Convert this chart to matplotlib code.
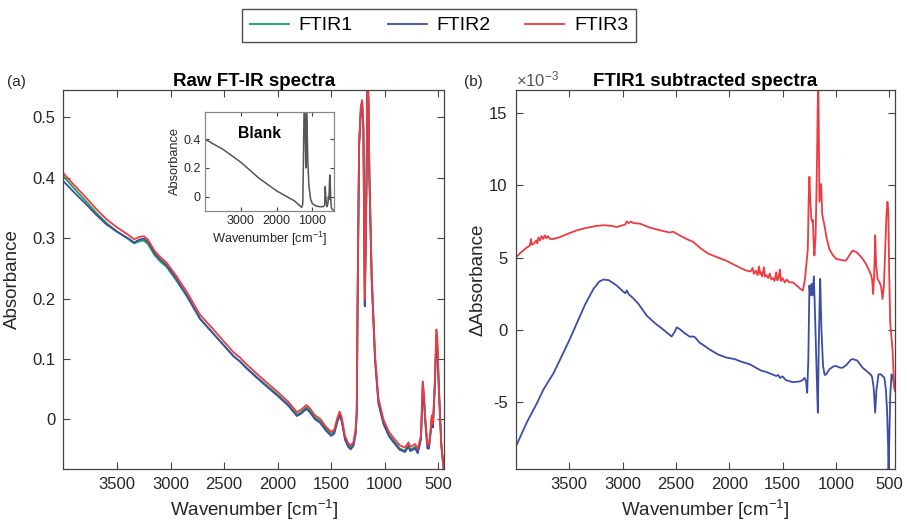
import numpy as np
import matplotlib
matplotlib.use("Agg")
import matplotlib.pyplot as plt
from matplotlib.lines import Line2D

plt.rcParams['font.family'] = ['Liberation Sans', 'DejaVu Sans']
plt.rcParams['mathtext.fontset'] = 'custom'
plt.rcParams['mathtext.rm'] = 'Liberation Sans'
plt.rcParams['mathtext.default'] = 'regular'
plt.rcParams['axes.unicode_minus'] = False

# ---- (a) raw spectra: wavenumber grid, FTIR1 absorbance, FTIR2/FTIR3 offsets (x1e-3)
wn_a = [4000, 3900, 3800, 3700, 3600, 3500, 3400, 3340, 3290, 3250, 3210, 3150, 3100,
        3036, 2950, 2849, 2724, 2600, 2500, 2413, 2350, 2300, 2200, 2101, 2000, 1900,
        1820, 1780, 1730, 1700, 1650, 1600, 1550, 1500, 1470, 1440, 1420, 1400, 1370,
        1340, 1316, 1290, 1270, 1260, 1250, 1238, 1222, 1210, 1198, 1185, 1175, 1167,
        1160, 1150, 1142, 1120, 1089, 1058, 1011, 960, 918, 860, 810, 777, 760, 730,
        715, 690, 660, 643, 632, 620, 600, 585, 570, 559, 548, 530, 516, 508, 490,
        470, 445]
ftir1 = [0.402, 0.382, 0.363, 0.343, 0.325, 0.311, 0.299, 0.291, 0.295, 0.296, 0.290,
         0.272, 0.262, 0.252, 0.231, 0.204, 0.166, 0.142, 0.122, 0.105, 0.096, 0.087,
         0.071, 0.056, 0.041, 0.025, 0.008, 0.012, 0.020, 0.015, 0.003, -0.003, -0.015,
         -0.024, -0.020, 0.000, 0.010, 0.000, -0.030, -0.042, -0.046, -0.040, -0.020,
         0.010, 0.230, 0.450, 0.510, 0.522, 0.480, 0.190, 0.300, 0.420, 0.580, 0.520,
         0.400, 0.230, 0.100, 0.030, -0.005, -0.025, -0.035, -0.048, -0.052, -0.043,
         -0.050, -0.047, -0.045, -0.053, -0.030, 0.060, 0.035, 0.000, -0.045, -0.045,
         -0.020, 0.005, -0.010, 0.060, 0.140, 0.130, 0.040, -0.040, -0.085]
off2 = [-8.0, -6.5, -5.0, -3.4, -2.2, -0.6, 1.0, 1.8, 2.6, 3.0, 3.4, 3.5, 3.3, 3.0, 2.6,
        1.8, 0.6, -0.1, 0.1, -0.3, -0.4, -0.7, -1.2, -1.6, -1.9, -2.2, -2.4, -2.5, -2.6,
        -2.7, -2.9, -3.1, -3.2, -3.3, -3.4, -3.5, -3.5, -3.6, -3.6, -3.6, -3.5, -3.4,
        -4.3, -1.0, 3.0, 2.4, 3.0, 3.6, 0.0, -3.0, -5.0, -5.7, 0.0, 3.5, 2.0, -1.0, -3.0,
        -2.8, -2.5, -2.6, -2.6, -2.1, -2.0, -2.2, -2.4, -2.7, -2.8, -3.0, -3.2, -4.5,
        -5.7, -4.0, -3.1, -3.1, -3.2, -3.2, -3.5, -4.2, -6.0, -9.0, -4.0, -3.1, -4.0]
off3 = [5.0, 5.6, 6.1, 6.3, 6.4, 6.7, 6.95, 7.05, 7.1, 7.2, 7.25, 7.2, 7.15, 7.2, 7.4,
        7.3, 7.0, 6.9, 6.7, 6.4, 6.2, 5.9, 5.4, 5.0, 4.6, 4.3, 4.1, 4.0, 3.9, 3.8, 3.7,
        3.6, 3.5, 3.4, 3.3, 3.2, 3.1, 3.0, 2.9, 2.8, 2.75, 3.0, 5.0, 7.0, 10.5, 8.5, 7.6,
        6.5, 5.5, 8.0, 13.0, 16.5, 15.0, 9.0, 10.0, 7.8, 6.6, 5.6, 5.0, 4.85, 4.8, 5.3,
        5.3, 5.0, 4.9, 4.6, 4.4, 4.0, 3.5, 2.5, 6.5, 4.0, 3.2, 2.7, 2.3, 2.2, 2.5, 6.0,
        8.8, 7.0, 2.0, -1.5, -4.0]

# ---- inset: blank spectrum
wn_blank = [4000, 3500, 3000, 2500, 2000, 1500, 1300, 1270, 1250, 1235, 1215, 1200, 1185,
            1175, 1165, 1150, 1130, 1100, 1050, 1000, 900, 800, 700, 660, 645, 635, 620,
            600, 570, 555, 540, 525, 515, 505, 490, 470, 400]
blank = [0.40, 0.33, 0.24, 0.13, 0.04, -0.03, -0.075, -0.05, 0.30, 0.60, 0.60, 0.40, 0.20,
         0.40, 0.60, 0.50, 0.25, 0.08, -0.02, -0.05, -0.065, -0.07, -0.07, -0.06, 0.07,
         0.03, -0.02, -0.07, -0.05, 0.0, -0.02, 0.10, 0.15, 0.12, -0.02, -0.08, -0.10]

# ---- (b) FTIR1 subtracted spectra (x1e-3)
wn_b2 = [3998, 3900, 3800, 3742, 3650, 3584, 3500, 3428, 3350, 3273, 3220, 3179, 3130,
         3055, 3000, 2975, 2961, 2945, 2900, 2850, 2774, 2700, 2630, 2587, 2540, 2510,
         2493, 2470, 2420, 2370, 2338, 2320, 2280, 2230, 2182, 2100, 2027, 1950, 1880,
         1808, 1750, 1700, 1650, 1600, 1559, 1540, 1525, 1500, 1470, 1404, 1340, 1310,
         1295, 1280, 1269, 1258, 1248, 1242, 1238, 1228, 1218, 1206, 1195, 1180, 1169,
         1160, 1152, 1147, 1135, 1120, 1105, 1091, 1060, 1020, 998, 960, 936, 900, 860,
         843, 800, 749, 700, 670, 660, 645, 631, 620, 600, 580, 562, 545, 531, 520, 510,
         506, 500, 490, 478, 465, 453, 445]
d2 = [-8.0, -6.4, -5.0, -4.1, -3.0, -2.0, -0.7, 0.5, 1.8, 2.85, 3.35, 3.5, 3.45, 3.08,
      2.7, 2.55, 2.75, 2.5, 2.2, 1.8, 1.0, 0.5, 0.1, -0.16, -0.44, -0.1, 0.19, 0.1, -0.2,
      -0.45, -0.44, -0.5, -0.85, -1.1, -1.35, -1.7, -1.9, -2.0, -2.2, -2.36, -2.6, -2.8,
      -2.9, -3.05, -3.17, -3.1, -3.3, -3.2, -3.45, -3.6, -3.55, -3.45, -3.3, -3.5, -4.33,
      -2.0, 3.08, 2.6, 2.4, 3.2, 2.4, 3.72, 1.0, -3.0, -5.7, -1.0, 2.0, 3.54, 0.0, -2.5,
      -3.1, -3.06, -2.7, -2.5, -2.48, -2.6, -2.6, -2.4, -2.05, -2.0, -2.1, -2.6, -2.9,
      -3.1, -3.25, -4.0, -5.7, -4.2, -3.06, -3.05, -3.17, -3.3, -4.1, -5.5, -8.0, -10.5,
      -8.0, -4.5, -3.06, -3.3, -3.87, -4.2]
wn_b3 = [3998, 3950, 3900, 3870, 3860, 3850, 3830, 3810, 3800, 3790, 3775, 3760, 3745,
         3730, 3715, 3700, 3680, 3650, 3600, 3550, 3500, 3428, 3350, 3250, 3179, 3100,
         3055, 3000, 2975, 2961, 2945, 2920, 2900, 2836, 2750, 2650, 2560, 2525, 2490,
         2400, 2338, 2276, 2200, 2100, 2027, 1950, 1880, 1839, 1800, 1780, 1770, 1750,
         1735, 1720, 1710, 1700, 1690, 1675, 1665, 1650, 1635, 1620, 1605, 1590, 1575,
         1560, 1550, 1540, 1525, 1515, 1500, 1480, 1460, 1440, 1404, 1370, 1340, 1310,
         1290, 1270, 1263, 1255, 1248, 1240, 1230, 1222, 1215, 1208, 1201, 1190, 1178,
         1170, 1164, 1158, 1154, 1146, 1138, 1128, 1107, 1085, 1061, 1030, 998, 950, 905,
         874, 843, 810, 780, 749, 720, 687, 670, 660, 650, 640, 631, 622, 609, 590, 575,
         562, 550, 535, 525, 516, 508, 500, 490, 469, 453, 445]
d3 = [5.05, 5.4, 5.7, 5.85, 6.3, 5.9, 6.0, 6.2, 6.0, 6.4, 6.2, 6.5, 6.3, 6.55, 6.35, 6.5,
      6.3, 6.3, 6.4, 6.55, 6.7, 6.9, 7.05, 7.2, 7.25, 7.2, 7.13, 7.25, 7.3, 7.52, 7.4, 7.5,
      7.4, 7.36, 7.1, 6.9, 6.75, 6.8, 6.65, 6.3, 6.1, 5.7, 5.3, 5.0, 4.8, 4.5, 4.25, 4.12,
      4.05, 4.3, 3.9, 4.1, 3.8, 4.4, 3.85, 4.0, 3.7, 4.35, 3.7, 3.8, 3.6, 3.9, 3.5, 3.6,
      3.4, 4.0, 3.45, 3.5, 4.2, 3.4, 3.6, 3.3, 3.5, 3.3, 3.3, 3.1, 2.9, 2.73, 3.5, 5.0,
      5.6, 9.0, 10.6, 9.0, 7.7, 7.5, 7.6, 6.0, 5.16, 6.5, 11.0, 15.5, 17.0, 12.0, 8.87,
      9.5, 10.1, 8.0, 7.24, 6.3, 5.6, 5.2, 4.93, 4.85, 4.8, 5.16, 5.5, 5.4, 5.2, 4.93,
      4.6, 4.12, 3.8, 3.5, 2.5, 4.0, 6.55, 4.5, 3.54, 3.3, 3.0, 2.15, 3.0, 6.0, 8.0, 8.87,
      8.3, 4.0, 0.5, -1.3, -3.87, -4.2]

labels = ['FTIR1', 'FTIR2', 'FTIR3']
colors = ['#16a34f', '#3b4da6', '#ee3a40']

ftir1 = np.array(ftir1)
ftir2 = ftir1 + np.array(off2) * 1e-3
ftir3 = ftir1 + np.array(off3) * 1e-3

axis_col = '#444444'
text_col = '#262626'

fig = plt.figure(figsize=(9.07, 5.26), dpi=100)
ax1 = fig.add_axes([0.070, 0.1084, 0.4195, 0.7205])
ax2 = fig.add_axes([0.5689, 0.1084, 0.4179, 0.7205])


def style(ax, size=12, length=5):
    ax.tick_params(direction='in', top=True, right=True, labelsize=size,
                   colors=axis_col, labelcolor=text_col, length=length, width=0.8, pad=6)
    for s in ax.spines.values():
        s.set_color(axis_col)
        s.set_linewidth(0.9)


for y, c, lab in zip([ftir1, ftir2, ftir3], colors, labels):
    ax1.plot(wn_a, y, color=c, lw=1.3, label=lab)
ax1.set_xlim(4000, 445)
ax1.set_ylim(-0.082, 0.545)
ax1.set_xticks([3500, 3000, 2500, 2000, 1500, 1000, 500])
ax1.set_yticks([0, 0.1, 0.2, 0.3, 0.4, 0.5])
ax1.set_yticklabels(['0', '0.1', '0.2', '0.3', '0.4', '0.5'])
style(ax1)
ax1.set_xlabel('Wavenumber [cm$^{-1}$]', fontsize=13.5, color=text_col, labelpad=4)
ax1.set_ylabel('Absorbance', fontsize=13.5, color=text_col, labelpad=8)
ax1.set_title('Raw FT-IR spectra', fontsize=13.5, fontweight='bold', color='black', pad=3)

ax2.plot(wn_b2, d2, color=colors[1], lw=1.3)
ax2.plot(wn_b3, d3, color=colors[2], lw=1.3)
ax2.set_xlim(4000, 445)
ax2.set_ylim(-9.6, 16.6)
ax2.set_xticks([3500, 3000, 2500, 2000, 1500, 1000, 500])
ax2.set_yticks([-5, 0, 5, 10, 15])
style(ax2)
ax2.set_xlabel('Wavenumber [cm$^{-1}$]', fontsize=13.5, color=text_col, labelpad=4)
ax2.set_ylabel('\u0394Absorbance', fontsize=13.5, color=text_col, labelpad=2)
ax2.set_title('FTIR1 subtracted spectra', fontsize=13.5, fontweight='bold', color='black', pad=3)

# inset with blank spectrum
axi = fig.add_axes([0.2260, 0.5989, 0.1422, 0.1882])
axi.plot(wn_blank, blank, color='#555555', lw=1.1)
axi.set_xlim(4000, 400)
axi.set_ylim(-0.1, 0.59)
axi.set_xticks([3000, 2000, 1000])
axi.set_yticks([0, 0.2, 0.4])
axi.set_yticklabels(['0', '0.2', '0.4'])
style(axi, size=9, length=3)
axi.tick_params(pad=3)
for s in axi.spines.values():
    s.set_color('#888888')
axi.set_xlabel('Wavenumber [cm$^{-1}$]', fontsize=9.2, color=text_col, labelpad=2)
axi.set_ylabel('Absorbance', fontsize=9.2, color=text_col, labelpad=2)
axi.text(0.42, 0.78, 'Blank', transform=axi.transAxes, fontsize=11.3,
         fontweight='bold', ha='center', va='center')

fig.text(0.008, 0.8365, '(a)', fontsize=11, color=text_col, va='baseline')
fig.text(0.512, 0.8365, '(b)', fontsize=11, color=text_col, va='baseline')
fig.text(0.569, 0.8365, '\u00d710$^{-3}$', fontsize=12, color='#555555', va='baseline')

handles = [Line2D([], [], color=c, lw=1.3) for c in colors]
fig.legend(handles, labels, loc='center', bbox_to_anchor=(0.484, 0.9515), ncol=3,
           fontsize=14, frameon=True, fancybox=False, edgecolor='#222222',
           handlelength=2.0, columnspacing=1.8, borderpad=0.4, handletextpad=0.5,
           borderaxespad=0)

fig.savefig('out.png', dpi=100)
